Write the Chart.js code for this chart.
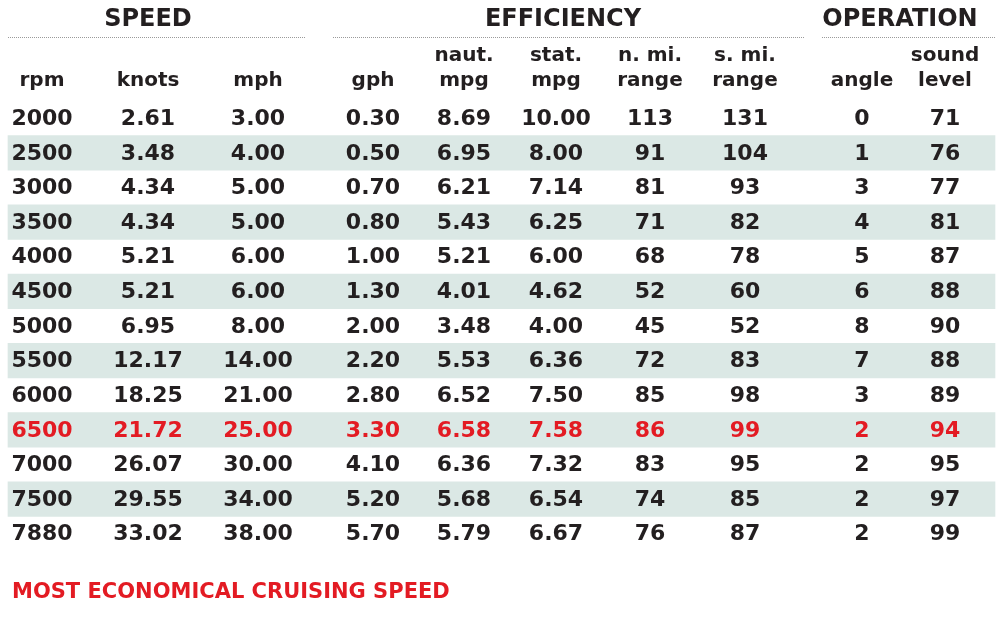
<!DOCTYPE html>
<html><head><meta charset="utf-8">
<script src="https://cdn.jsdelivr.net/npm/chart.js@4/dist/chart.umd.min.js"></script>
<style>html,body{margin:0;padding:0;background:#fff}</style>
</head><body>
<canvas id="c" width="1000" height="618"></canvas>
<script>
const rpm = ["2000","2500","3000","3500","4000","4500","5000","5500","6000","6500","7000","7500","7880"];
const knots = ["2.61","3.48","4.34","4.34","5.21","5.21","6.95","12.17","18.25","21.72","26.07","29.55","33.02"];
const mph = ["3.00","4.00","5.00","5.00","6.00","6.00","8.00","14.00","21.00","25.00","30.00","34.00","38.00"];
const gph = ["0.30","0.50","0.70","0.80","1.00","1.30","2.00","2.20","2.80","3.30","4.10","5.20","5.70"];
const nautMpg = ["8.69","6.95","6.21","5.43","5.21","4.01","3.48","5.53","6.52","6.58","6.36","5.68","5.79"];
const statMpg = ["10.00","8.00","7.14","6.25","6.00","4.62","4.00","6.36","7.50","7.58","7.32","6.54","6.67"];
const nmiRange = ["113","91","81","71","68","52","45","72","85","86","83","74","76"];
const smiRange = ["131","104","93","82","78","60","52","83","98","99","95","85","87"];
const angle = ["0","1","3","4","5","6","8","7","3","2","2","2","2"];
const sound = ["71","76","77","81","87","88","90","88","89","94","95","97","99"];
const columnHeaders = [["","rpm"],["","knots"],["","mph"],["","gph"],["naut.","mpg"],["stat.","mpg"],["n. mi.","range"],["s. mi.","range"],["","angle"],["sound","level"]];
const groups = ["SPEED","EFFICIENCY","OPERATION"];
const highlightRow = 9;
const footer = "MOST ECONOMICAL CRUISING SPEED";

const columns = [rpm,knots,mph,gph,nautMpg,statMpg,nmiRange,smiRange,angle,sound];
const colX = [42,148,258,373,464,556,650,745,862,945];
const groupSpan = [[8,305],[333,805],[822,995]];
const groupCenter = [148,563,900];
const DARK="#231f20", RED="#e31b23";

const tablePlugin = {
  id:'table',
  afterDatasetsDraw(chart){
    const ctx=chart.ctx, x=chart.scales.x, y=chart.scales.y;
    const rowH = y.getPixelForValue(1)-y.getPixelForValue(0);
    const top = y.getPixelForValue(0)-rowH/2;
    ctx.save();
    ctx.textAlign='center'; ctx.textBaseline='middle';
    columns.forEach((col,ci)=>{
      col.forEach((v,ri)=>{
        ctx.fillStyle = ri===highlightRow?RED:DARK;
        ctx.font='bold 22px "DejaVu Sans"';
        ctx.fillText(v, x.getPixelForValue(colX[ci]), y.getPixelForValue(ri)+1);
      });
      ctx.fillStyle=DARK; ctx.font='bold 20px "DejaVu Sans"';
      ctx.fillText(columnHeaders[ci][0], x.getPixelForValue(colX[ci]), top-45);
      ctx.fillText(columnHeaders[ci][1], x.getPixelForValue(colX[ci]), top-20);
    });
    groups.forEach((g,gi)=>{
      ctx.font='bold 24px "DejaVu Sans"'; ctx.fillStyle=DARK;
      ctx.fillText(g, x.getPixelForValue(groupCenter[gi]), top-81);
      ctx.strokeStyle='#9a9a9a'; ctx.lineWidth=1; ctx.setLineDash([1,1]);
      ctx.beginPath();
      ctx.moveTo(x.getPixelForValue(groupSpan[gi][0]), top-63.5);
      ctx.lineTo(x.getPixelForValue(groupSpan[gi][1]), top-63.5);
      ctx.stroke(); ctx.setLineDash([]);
    });
    ctx.textAlign='left'; ctx.fillStyle=RED; ctx.font='bold 21px "DejaVu Sans"';
    ctx.fillText(footer, x.getPixelForValue(12), y.getPixelForValue(rpm.length-1)+rowH/2+42);
    ctx.restore();
  }
};

new Chart(document.getElementById('c'),{
  type:'bar',
  data:{labels:rpm,datasets:[{
    data: rpm.map((_,i)=> i%2===1 ? [8,995] : null),
    backgroundColor:'#dbe8e5', barPercentage:1, categoryPercentage:1, borderWidth:0
  }]},
  options:{
    indexAxis:'y', responsive:false, animation:false, devicePixelRatio:1,
    layout:{padding:{top:101,bottom:67,left:0,right:0}},
    plugins:{legend:{display:false},tooltip:{enabled:false}},
    scales:{
      x:{type:'linear',min:0,max:1000,display:false},
      y:{type:'category',display:false,offset:true}
    }
  },
  plugins:[tablePlugin]
});
</script>
</body></html>
